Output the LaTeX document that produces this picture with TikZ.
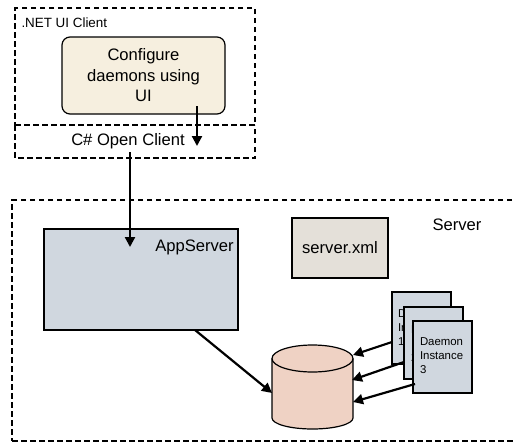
\documentclass[tikz,border=0pt]{standalone}
\usepackage{fontspec}
\setmainfont{Liberation Sans}
\usetikzlibrary{arrows.meta}

\tikzset{
  dashbox/.style={draw=black,line width=2.3pt,dash pattern=on 5.5pt off 3.5pt},
  panel/.style={draw=black,line width=1.2pt,fill=panelblue},
  flow/.style={draw=black,line width=2.2pt,-{Triangle[width=10pt,length=10pt]}},
  bigtext/.style={font=\fontsize{16.6}{20.5}\selectfont,align=center},
  smalltext/.style={font=\fontsize{11.4}{14}\selectfont,align=left},
}
\definecolor{panelblue}{HTML}{D0D7DF}
\definecolor{uicream}{HTML}{F6EFDF}
\definecolor{xmlgrey}{HTML}{E4E0D9}
\definecolor{dbpink}{HTML}{EFD2C4}

\begin{document}
\begin{tikzpicture}[x=1pt,y=1pt]
\tikzstyle{every node}+=[inner sep=0pt,outer sep=0pt]
\useasboundingbox (0,0) rectangle (515,-442);
\clip (0,0) rectangle (515,-442);
\fill [white] (0,0) rectangle (515,-442);
% client side
\node [dashbox,minimum width=240pt,minimum height=117pt] (uiclient) at (135,-66.5) {};
\node [minimum width=240pt,minimum height=33pt] (openclient) at (135,-141.5) {};
\draw [dashbox] (openclient.north west) |- (openclient.south east) -- (openclient.north east);
\node [font=\fontsize{13.4}{16}\selectfont,anchor=west] (uiclientlabel) at (21.5,-22.5) {.NET UI Client};
\node [bigtext] (openclientlabel) at (128,-141.5) {C\# Open Client};
\node [draw=black,line width=1.2pt,fill=uicream,rounded corners=8pt,minimum width=163pt,minimum height=77pt,bigtext] (configure) at (143.5,-75.5) {Configure\\daemons using\\UI};
% server side
\node [dashbox,minimum width=530pt,minimum height=241pt] (server) at (277,-320.5) {};
\node [bigtext] (serverlabel) at (457,-224.5) {Server};
\node [panel,minimum width=194pt,minimum height=101pt] (appserver) at (141,-279.5) {};
\node [bigtext] (appserverlabel) at (194.5,-247.5) {AppServer};
\node [draw=black,line width=1.2pt,fill=xmlgrey,minimum width=96pt,minimum height=60pt,bigtext] (serverxml) at (340,-248) {server.xml};
% database drum
\node [minimum width=81pt,minimum height=84pt] (store) at (312.5,-387) {};
\draw [black,line width=1.2pt,fill=dbpink] ([yshift=-13.5pt]store.north west) arc (180:0:40.5 and 13.5) -- ([yshift=11pt]store.south east) arc (0:-180:40.5 and 11) -- cycle;
\draw [black,line width=1.2pt] ([yshift=-13.5pt]store.north west) arc (180:360:40.5 and 13.5);
% daemon instances
\node [panel,minimum width=59pt,minimum height=72pt] (daemonone) at (421.5,-328) {};
\node [smalltext,anchor=north west] (daemononelabel) at (398,-310) {Daemon\\Instance\\1};
\node [panel,minimum width=59pt,minimum height=72pt] (daemontwo) at (433.5,-343) {};
\node [smalltext,anchor=north west] (daemontwolabel) at (411,-325.5) {Daemon\\Instance\\2};
\node [panel,minimum width=59pt,minimum height=72pt] (daemonthree) at (442.5,-357) {};
\node [smalltext,anchor=north west] (daemonthreelabel) at (420,-338) {Daemon\\Instance\\3};
% arrows
\draw [flow] ([xshift=53.5pt,yshift=8pt]configure.south) -- ([xshift=62pt,yshift=12pt]openclient.south);
\draw [flow] ([xshift=2pt,yshift=-3pt]openclientlabel.south) -- ([xshift=-11pt,yshift=-18pt]appserver.north);
\draw [flow] ([xshift=54pt]appserver.south) -- ([yshift=-6pt]store.west);
\draw [flow] ([yshift=-14pt]daemonone.west) -- ([yshift=32pt]store.east);
\draw [flow] ([yshift=-19pt]daemontwo.west) -- ([xshift=-1pt,yshift=7pt]store.east);
\draw [flow] ([xshift=2pt,yshift=-27pt]daemonthree.west) -- ([yshift=-15pt]store.east);
\end{tikzpicture}
\end{document}
